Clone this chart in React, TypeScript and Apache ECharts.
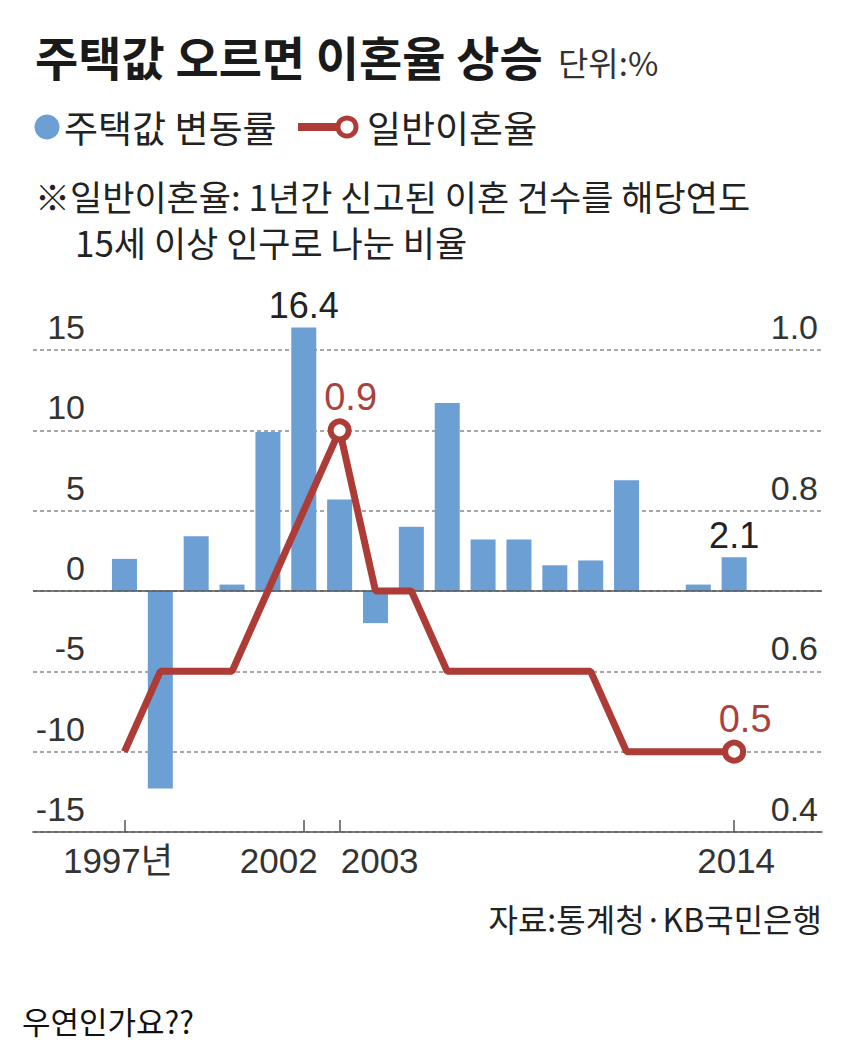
import React, { useEffect, useRef } from "react";
import * as echarts from "echarts";

// ---- data ----
const years = [1997, 1998, 1999, 2000, 2001, 2002, 2003, 2004, 2005, 2006, 2007, 2008, 2009, 2010, 2011, 2012, 2013, 2014];
const housePriceChange = [2.0, -12.3, 3.4, 0.4, 9.9, 16.4, 5.7, -2.0, 4.0, 11.7, 3.2, 3.2, 1.6, 1.9, 6.9, 0.0, 0.4, 2.1];
const divorceRate = [0.5, 0.6, 0.6, 0.6, 0.7, 0.8, 0.9, 0.7, 0.7, 0.6, 0.6, 0.6, 0.6, 0.6, 0.5, 0.5, 0.5, 0.5];
const labeledBarYears = [2002, 2014];
const labeledLineYears = [2003, 2014];
const xTickYears = [1997, 2002, 2003, 2014];
const leftAxis = { min: -15, max: 15, interval: 5 };
const rightAxis = { min: 0.4, max: 1.0, interval: 0.2 };

const titleText = "주택값 오르면 이혼율 상승";
const unitText = "단위:%";
const legendBarName = "주택값 변동률";
const legendLineName = "일반이혼율";
const noteLine1 = "※일반이혼율: 1년간 신고된 이혼 건수를 해당연도";
const noteLine2 = "15세 이상 인구로 나눈 비율";
const sourceText = "자료:통계청·KB국민은행";
const captionText = "우연인가요??";

const BLUE = "#6c9fd4";
const RED = "#ad3b36";
const RED_TEXT = "#a9423d";
const NUM_FONT = "'Liberation Sans', Arial, 'Noto Sans CJK KR', sans-serif";
const KR_FONT = "'Noto Sans CJK KR', 'Noto Sans', sans-serif";

export default function App() {
  const ref = useRef<HTMLDivElement>(null);

  useEffect(() => {
    if (!ref.current) return;
    const chart = echarts.init(ref.current, undefined, { renderer: "svg" });

    const xLabelRich = {
      a: { fontSize: 35, fontFamily: NUM_FONT, color: "#333", padding: [0, 13, 0, 0] },
      b: { fontSize: 35, fontFamily: NUM_FONT, color: "#333", padding: [0, 50, 0, 0] },
      c: { fontSize: 35, fontFamily: NUM_FONT, color: "#333", padding: [0, 0, 0, 80] },
      d: { fontSize: 35, fontFamily: NUM_FONT, color: "#333", padding: [0, 0, 0, 4] },
    };
    const xLabelFormatter = (v: number) => {
      const y = Math.round(v);
      const idx = xTickYears.indexOf(y);
      if (idx === 0) return `{a|${y}년}`;
      if (idx === 1) return `{b|${y}}`;
      if (idx === 2) return `{c|${y}}`;
      return `{d|${y}}`;
    };

    const option: any = {
      animation: false,
      backgroundColor: "#ffffff",
      grid: { left: 33, right: 28, top: 350, bottom: 211, containLabel: false, outerBoundsMode: "none" },
      xAxis: {
        type: "value",
        min: 1994.45,
        max: 2016.45,
        splitLine: { show: false },
        axisLine: { show: true, onZero: false, lineStyle: { color: "#555", width: 1.5 } },
        axisTick: { show: true, inside: true, length: 12, customValues: xTickYears, lineStyle: { color: "#555", width: 1.5 } },
        axisLabel: {
          customValues: xTickYears,
          margin: 11,
          fontSize: 35,
          fontFamily: NUM_FONT,
          color: "#333",
          formatter: xLabelFormatter,
          rich: xLabelRich,
        },
      },
      yAxis: [
        {
          type: "value",
          position: "left",
          min: leftAxis.min,
          max: leftAxis.max,
          interval: leftAxis.interval,
          axisLine: { show: false },
          axisTick: { show: false },
          splitLine: { show: true, lineStyle: { type: [4, 3], color: "#8a8a8a", width: 1.5 } },
          axisLabel: {
            inside: true,
            align: "right",
            margin: 52,
            verticalAlign: "bottom",
            padding: [0, 0, 6, 0],
            fontSize: 34,
            fontFamily: NUM_FONT,
            color: "#333",
          },
        },
        {
          type: "value",
          position: "right",
          min: rightAxis.min,
          max: rightAxis.max,
          interval: rightAxis.interval,
          axisLine: { show: false },
          axisTick: { show: false },
          splitLine: { show: false },
          axisLabel: {
            inside: true,
            align: "right",
            margin: 4,
            verticalAlign: "bottom",
            padding: [0, 0, 6, 0],
            fontSize: 34,
            fontFamily: NUM_FONT,
            color: "#333",
            formatter: (v: number) => v.toFixed(1),
          },
        },
      ],
      series: [
        {
          type: "bar",
          name: legendBarName,
          xAxisIndex: 0,
          yAxisIndex: 0,
          barWidth: 25,
          clip: false,
          itemStyle: { color: BLUE },
          data: years.map((y, i) => {
            const item: any = { value: [y, housePriceChange[i]] };
            if (labeledBarYears.includes(y)) item.label = { show: true };
            return item;
          }),
          label: {
            show: false,
            position: "top",
            distance: 4,
            fontSize: 36,
            fontFamily: NUM_FONT,
            color: "#222",
            formatter: (p: any) => Number(p.value[1]).toFixed(1),
          },
          markLine: {
            silent: true,
            symbol: "none",
            label: { show: false },
            lineStyle: { type: "solid", color: "#555", width: 1.5 },
            data: [{ yAxis: 0 }],
          },
        },
        {
          type: "line",
          name: legendLineName,
          xAxisIndex: 0,
          yAxisIndex: 1,
          z: 5,
          clip: false,
          symbol: "circle",
          symbolSize: 18,
          showAllSymbol: true,
          lineStyle: { color: RED, width: 7 },
          itemStyle: { color: "#ffffff", borderColor: RED, borderWidth: 6 },
          data: years.map((y, i) => {
            if (labeledLineYears.includes(y)) {
              return { value: [y, divorceRate[i]], symbol: "circle", label: { show: true } };
            }
            return { value: [y, divorceRate[i]], symbol: "none" };
          }),
          label: {
            show: false,
            position: "top",
            distance: 2,
            offset: [11, 0],
            fontSize: 38,
            fontFamily: NUM_FONT,
            color: RED_TEXT,
            formatter: (p: any) => Number(p.value[1]).toFixed(1),
          },
        },
      ],
      graphic: [
        {
          type: "text",
          x: 35,
          y: 55,
          style: { text: titleText, fontSize: 47, fontWeight: "bold", fontFamily: KR_FONT, fill: "#1a1a1a", verticalAlign: "middle" },
        },
        {
          type: "text",
          x: 558,
          y: 62,
          style: { text: unitText, fontSize: 33, fontFamily: KR_FONT, fill: "#333", verticalAlign: "middle" },
        },
        { type: "circle", shape: { cx: 47, cy: 127, r: 12.5 }, style: { fill: BLUE } },
        {
          type: "text",
          x: 64,
          y: 127,
          style: { text: legendBarName, fontSize: 37, fontFamily: KR_FONT, fill: "#222", verticalAlign: "middle" },
        },
        { type: "line", shape: { x1: 298, y1: 127, x2: 338, y2: 127 }, style: { stroke: RED, lineWidth: 8 } },
        { type: "circle", shape: { cx: 347, cy: 127, r: 9 }, style: { fill: "#fff", stroke: RED, lineWidth: 5 } },
        {
          type: "text",
          x: 367,
          y: 127,
          style: { text: legendLineName, fontSize: 37, fontFamily: KR_FONT, fill: "#222", verticalAlign: "middle" },
        },
        {
          type: "text",
          x: 35,
          y: 195,
          style: { text: noteLine1, fontSize: 35, fontFamily: KR_FONT, fill: "#222", verticalAlign: "middle" },
        },
        {
          type: "text",
          x: 75,
          y: 241,
          style: { text: noteLine2, fontSize: 35, fontFamily: KR_FONT, fill: "#222", verticalAlign: "middle" },
        },
        {
          type: "text",
          x: 822,
          y: 918,
          style: { text: sourceText, fontSize: 32, fontFamily: KR_FONT, fill: "#222", align: "right", verticalAlign: "middle" },
        },
        {
          type: "text",
          x: 22,
          y: 1020,
          style: { text: captionText, fontSize: 31, fontFamily: KR_FONT, fill: "#111", verticalAlign: "middle" },
        },
      ],
    };

    chart.setOption(option);
    return () => chart.dispose();
  }, []);

  return (
    <div
      ref={ref}
      style={{ position: "absolute", left: 0, top: 0, width: 850, height: 1043, background: "#fff" }}
    />
  );
}
